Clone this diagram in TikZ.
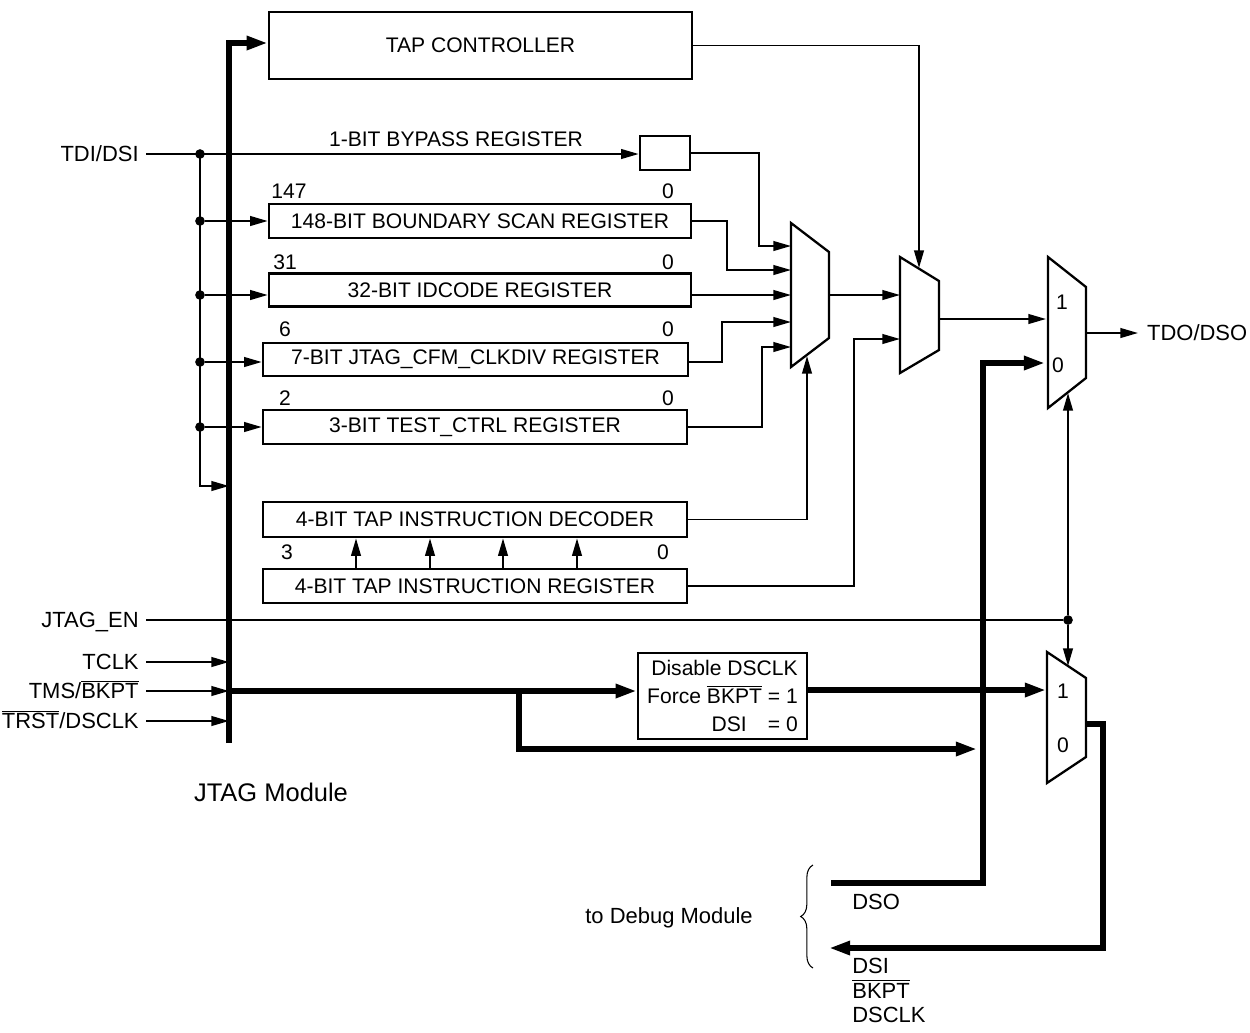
\documentclass[tikz,border=0pt]{standalone}
\usepackage{fontspec}
\setmainfont{Liberation Sans}
\usetikzlibrary{arrows.meta,decorations.pathreplacing}

\newcommand{\ovl}[1]{$\overline{\mbox{#1}}$}

\begin{document}
\begin{tikzpicture}[
  x=0.02cm, y=-0.02cm,
  font=\fontsize{12}{14}\selectfont,
  >={Triangle[length=10pt,width=5.5pt]},
  wire/.style={line width=1.1pt},
  bus/.style={line width=3pt, >={Triangle[length=12pt,width=7.5pt]}},
  reg/.style={draw, line width=1.5pt, inner sep=0pt, minimum height=0.68cm},
  mux/.style={draw, line width=1.3pt, line join=miter},
  dot/.style={circle, fill, inner sep=0pt, minimum size=5.5pt},
  pin/.style={anchor=east, inner xsep=4pt, inner ysep=0pt, text height=11pt,
              text depth=2pt, font=\fontsize{12.5}{14}\selectfont},
  bitno/.style={inner sep=0pt},
  muxlbl/.style={inner sep=0pt},
]
\useasboundingbox (0,0) rectangle (1250,1032);

% ---------------- registers ----------------
\node[reg, minimum width=8.46cm, minimum height=1.34cm] (tap) at (480.5,45.5) {TAP CONTROLLER};
\node[reg, minimum width=1.0cm] (byp) at (665,153) {};
\node (bypl) at (456,139) {1-BIT BYPASS REGISTER};
\node[reg, minimum width=8.44cm] (bsr) at (480,221) {148-BIT BOUNDARY SCAN REGISTER};
\node[reg, minimum width=8.44cm, minimum height=0.66cm] (idc) at (480,290) {32-BIT IDCODE REGISTER};
\node[reg, minimum width=8.5cm, minimum height=0.66cm] (clk) at (475.5,359.5) {7-BIT JTAG\_CFM\_CLKDIV REGISTER};
\node[reg, minimum width=8.48cm] (tst) at (475,427) {3-BIT TEST\_CTRL REGISTER};
\node[reg, minimum width=8.48cm, minimum height=0.70cm] (dec) at (475,519.5) {4-BIT TAP INSTRUCTION DECODER};
\node[reg, minimum width=8.48cm] (ir) at (475,586) {4-BIT TAP INSTRUCTION REGISTER};

% bit numbers
\node[bitno] (bsrh) at (289,191) {147}; \node[bitno] (bsrl) at (668,191) {0};
\node[bitno] (idch) at (285,262) {31};  \node[bitno] (idcl) at (668,262) {0};
\node[bitno] (clkh) at (285,329) {6};   \node[bitno] (clkl) at (668,329) {0};
\node[bitno] (tsth) at (285,398) {2};   \node[bitno] (tstl) at (668,398) {0};
\node[bitno] (irh)  at (287,552) {3};   \node[bitno] (irl)  at (663,552) {0};

% ---------------- multiplexers ----------------
\draw[mux] (791,223) -- (829,252) -- (829,338) -- (791,367) -- cycle;
\draw[mux] (900,257) -- (939,281) -- (939,350) -- (900,373) -- cycle;
\draw[mux] (1048,257) -- (1086,287) -- (1086,378) -- (1048,408) -- cycle;
\draw[mux] (1047,652) -- (1086,678) -- (1086,757) -- (1047,783) -- cycle;

\coordinate (m1in1) at (791,246); \coordinate (m1in2) at (791,270);
\coordinate (m1in3) at (791,295); \coordinate (m1in4) at (791,322);
\coordinate (m1in5) at (791,347); \coordinate (m1sel) at (807,356);
\coordinate (m1out) at (829,295);
\coordinate (m2in1) at (900,295); \coordinate (m2in2) at (900,339);
\coordinate (m2sel) at (919,268); \coordinate (m2out) at (939,319);
\coordinate (m3in1) at (1046,319); \coordinate (m3in0) at (1045,363);
\coordinate (m3sel) at (1068,393); \coordinate (m3out) at (1086,333);
\coordinate (m4in1) at (1046,690); \coordinate (m4in0) at (977,749);
\coordinate (m4sel) at (1068,666); \coordinate (m4out) at (1086,724);

\node[muxlbl] (m3l1) at (1062,302) {1}; \node[muxlbl] (m3l0) at (1058,365) {0};
\node[muxlbl] (m4l1) at (1063,691) {1}; \node[muxlbl] (m4l0) at (1063,745) {0};

% ---------------- scan chain inputs ----------------
\coordinate (bustop) at (229,43);
\coordinate (busbot) at (229,743);

\node[pin] (tdi) at (146,154) {TDI/DSI};
\node[dot] (j0) at (200,154) {};
\node[dot] (j1) at (200,221) {};
\node[dot] (j2) at (200,295) {};
\node[dot] (j3) at (200,362) {};
\node[dot] (j4) at (200,427) {};
\coordinate (j5) at (200,486);

\draw[wire,->] (tdi.east) -- (tdi.east -| byp.west);
\draw[wire,->] (j0.center) -- (j5) -- (j5 -| busbot);
\draw[wire,->] (j1) -- (j1 -| bsr.west);
\draw[wire,->] (j2) -- (j2 -| idc.west);
\draw[wire,->] (j3) -- (j3 -| clk.west);
\draw[wire,->] (j4) -- (j4 -| tst.west);

\foreach \x in {356,430,503,577}
  \draw[wire,->] ([xshift={(\x-475)*0.02cm}]ir.north) -- ([xshift={(\x-475)*0.02cm}]dec.south);

% ---------------- register outputs ----------------
\draw[wire,->] (byp.east) -- ++(68,0) |- (m1in1);
\draw[wire,->] (j1 -| bsr.east) -- ++(35,0) |- (m1in2);
\draw[wire,->] (j2 -| idc.east) -- (m1in3);
\draw[wire,->] (j3 -| clk.east) -- ++(33,0) |- (m1in4);
\draw[wire,->] (tst.east) -- ++(74,0) |- (m1in5);
\draw[wire,->] (dec.east) -| (m1sel);
\draw[wire,->] (ir.east) -- ++(166,0) |- (m2in2);
\draw[wire,->] (tap.east) -| (m2sel);
\draw[wire,->] (m1out) -- (m2in1);
\draw[wire,->] (m2out) -- (m3in1);

\node[anchor=west, inner xsep=5pt, font=\fontsize{12.5}{14}\selectfont] (tdo) at (1138,333) {TDO/DSO};
\draw[wire,->] (m3out) -- (tdo.west);

% ---------------- control pins ----------------
\node[pin] (jtagen) at (146,620) {JTAG\_EN};
\node[dot] (jen) at (1068,620) {};
\draw[wire] (jtagen.east) -- (jen);
\draw[wire,->] (jen) -- (m3sel);
\draw[wire,->] (jen) -- (m4sel);

\node[pin] (tclk) at (146,662) {TCLK};
\node[pin] (tms)  at (146,691) {TMS/\ovl{BKPT}};
\node[pin] (trst) at (146,721) {\ovl{TRST}/DSCLK};
\draw[wire,->] (tclk.east) -- (tclk.east -| busbot);
\draw[wire,->] (tms.east) -- (tms.east -| busbot);
\draw[wire,->] (trst.east) -- (trst.east -| busbot);

% thick bus
\draw[bus,->] (busbot) -- (bustop) -- (bustop -| tap.west);

\node[font=\fontsize{14.5}{16}\selectfont] (jmod) at (271,792) {JTAG Module};

% ---------------- debug path ----------------
\node[reg, align=right, minimum width=3.38cm, minimum height=1.72cm,
      font=\fontsize{12}{16}\selectfont] (dis) at (722.5,696)
  {Disable DSCLK\\Force \ovl{BKPT} = 1\\DSI\hspace{12pt}= 0};

\coordinate (br) at (519,691);
\draw[bus,->] (tms.east -| busbot) -- (tms.east -| dis.west);
\draw[bus,->] (br) |- (m4in0);
\draw[bus,->] (dis.east |- m4in1) -- (m4in1);

\coordinate (dso) at (831,883);
\coordinate (dsi) at (829,948);
\draw[bus,->] (dso) -- ++(152,0) |- (m3in0);
\draw[bus,->] (m4out) -- ++(17,0) |- (dsi);

\node[anchor=west, inner sep=0pt, font=\fontsize{12.5}{14}\selectfont] (dsol) at (852,902) {DSO};
\node[anchor=north west, inner sep=0pt, align=left, font=\fontsize{12.5}{14}\selectfont] (dsil) at (852,958)
  {DSI\\\ovl{BKPT}\\DSCLK};

\draw[decorate, decoration={brace, amplitude=7pt}, line width=0.6pt] (813,968) -- (813,865);
\node[font=\fontsize{12.5}{14}\selectfont] (dbg) at (669,918) {to Debug Module};

\end{tikzpicture}
\end{document}
